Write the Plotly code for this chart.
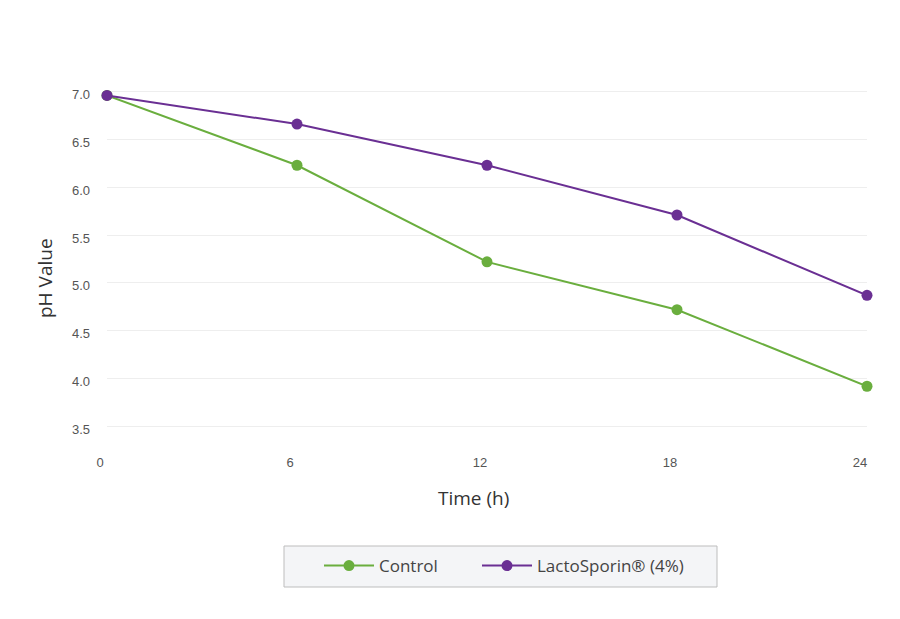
import plotly.graph_objects as go

time_h = [0, 6, 12, 18, 24]
control = [6.96, 6.23, 5.22, 4.72, 3.92]
lactosporin = [6.96, 6.66, 6.23, 5.71, 4.87]
x_ticks = [0, 6, 12, 18, 24]
y_ticks = [3.5, 4.0, 4.5, 5.0, 5.5, 6.0, 6.5, 7.0]

GREEN = "#6aae3e"
PURPLE = "#6a2f93"

W, H = 900, 619
ML, MR, MT, MB = 107, 33, 82, 183
PW, PH = W - ML - MR, H - MT - MB

def px(x):
    return (x - ML) / PW

def py(y):
    return (H - MB - y) / PH

fig = go.Figure()
fig.add_trace(go.Scatter(x=time_h, y=control, name="Control", mode="lines+markers",
                         line=dict(color=GREEN, width=2), marker=dict(size=11, color=GREEN),
                         cliponaxis=False, legend="legend"))
fig.add_trace(go.Scatter(x=time_h, y=lactosporin, name="LactoSporin® (4%)", mode="lines+markers",
                         line=dict(color=PURPLE, width=2), marker=dict(size=11, color=PURPLE),
                         cliponaxis=False, legend="legend2"))

leg_common = dict(orientation="h", xanchor="left", yanchor="middle",
                  bgcolor="rgba(0,0,0,0)", borderwidth=0,
                  font=dict(family="Open Sans", size=17, color="#444"), itemwidth=50)

fig.update_layout(
    width=W, height=H,
    margin=dict(l=ML, r=MR, t=MT, b=MB),
    paper_bgcolor="white", plot_bgcolor="white",
    showlegend=True,
    legend=dict(x=px(319), y=py(566), **leg_common),
    legend2=dict(x=px(477), y=py(566), **leg_common),
    shapes=[dict(type="rect", xref="paper", yref="paper",
                 x0=px(284), x1=px(717), y0=py(587), y1=py(546),
                 fillcolor="#f4f5f7", line=dict(color="#bdbdbd", width=1), layer="below")],
    annotations=[
        dict(text="Time (h)", xref="paper", yref="paper", x=px(473), y=py(498),
             showarrow=False, font=dict(family="Open Sans", size=19, color="#333"),
             xanchor="center", yanchor="middle"),
        dict(text="pH Value", xref="paper", yref="paper", x=px(45), y=py(278),
             showarrow=False, textangle=-90, font=dict(family="Open Sans", size=19, color="#333"),
             xanchor="center", yanchor="middle"),
    ],
)
fig.update_xaxes(range=[0, 24], tickvals=x_ticks, ticktext=[str(v) for v in x_ticks],
                 showgrid=False, zeroline=False, showline=False,
                 tickfont=dict(family="Liberation Sans", size=13, color="#555"),
                 ticks="", ticklabelstandoff=17, ticklabelshift=-7)
fig.update_yaxes(range=[3.4, 7.1], tickvals=y_ticks, ticktext=[f"{v:.1f}" for v in y_ticks],
                 showgrid=True, gridcolor="#eeeeee", gridwidth=1, zeroline=False, showline=False,
                 tickfont=dict(family="Liberation Sans", size=13, color="#555"),
                 ticks="", ticklabelstandoff=16, ticklabelshift=3)

fig.write_html("out.html")
